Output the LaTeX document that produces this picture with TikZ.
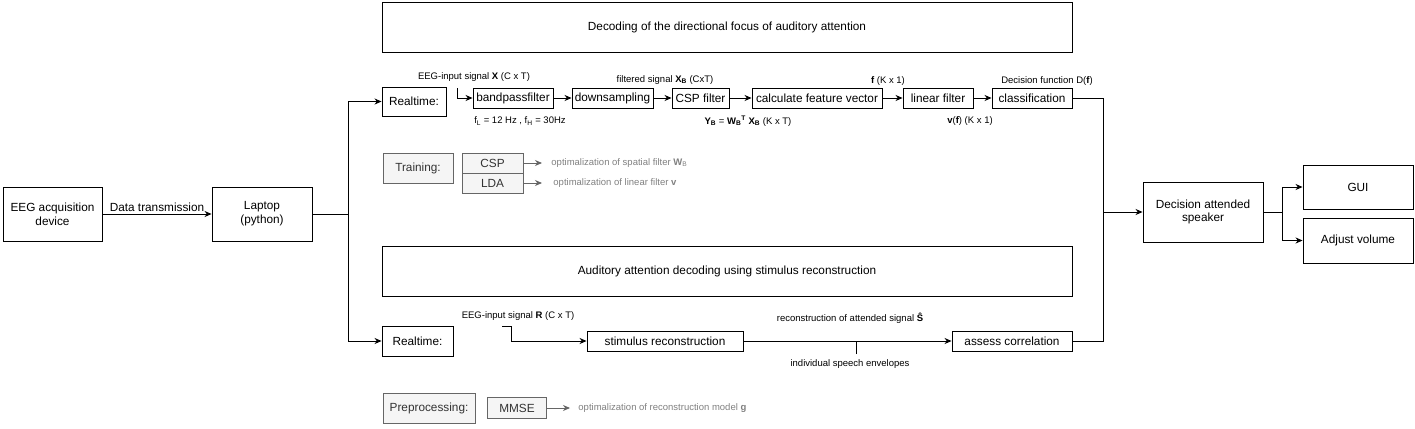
\documentclass[tikz,border=0pt]{standalone}
\usepackage{fontspec}
\setmainfont{Liberation Sans}
\usetikzlibrary{arrows.meta}
\definecolor{fillgray}{HTML}{F5F5F5}
\definecolor{linegray}{HTML}{666666}
\definecolor{textgray}{HTML}{333333}
\definecolor{notegray}{HTML}{808080}

\begin{document}
\begin{tikzpicture}[x=1pt,y=-1pt,>={Stealth[length=7pt,width=6pt,inset=2.2pt]},line width=0.9pt,
    block/.style={draw,rectangle,inner sep=0pt,align=center,font=\fontsize{11.8}{13.8}\selectfont},
    wh/.style 2 args={minimum width=#1pt,minimum height=#2pt},
    train/.style={block,draw=linegray,fill=fillgray,text=textgray},
    lbl/.style={inner sep=0pt,font=\fontsize{9.5}{11}\selectfont},
    note/.style={lbl,anchor=west,text=notegray}]
    \useasboundingbox (0,0) rectangle (1415,428);

    % sections
    \node[block,wh={690}{50}] (topic1) at (727,27) {Decoding of the directional focus of auditory attention};
    \node[block,wh={690}{50}] (topic2) at (727,271) {Auditory attention decoding using stimulus reconstruction};

    % acquisition
    \node[block,wh={99}{54}] (eeg) at (52.5,214) {EEG acquisition\\device};
    \node[block,wh={100}{54}] (laptop) at (262,214) {Laptop\\(python)};
    \coordinate (split) at (348,214);

    % realtime chain (top)
    \node[block,wh={64}{29}] (rt1) at (414,101.5) {Realtime:};
    \node[block,wh={80}{20}] (bpf) at (513,98) {bandpassfilter};
    \node[block,wh={81}{20}] (down) at (612.5,98) {downsampling};
    \node[block,wh={57}{20}] (csp) at (700.5,98) {CSP filter};
    \node[block,wh={130}{20}] (feat) at (817,98) {calculate feature vector};
    \node[block,wh={70}{20}] (lin) at (938,98) {linear filter};
    \node[block,wh={80}{20}] (cls) at (1032,98) {classification};
    \coordinate (in1) at (457,88);

    \node[lbl] (xlbl) at (474,77) {EEG-input signal \textbf{X} (C x T)};
    \node[lbl] (flbl) at (520,121) {f\textsubscript{L} = 12 Hz , f\textsubscript{H} = 30Hz};
    \node[lbl] (xblbl) at (665,80) {filtered signal \textbf{X\textsubscript{B}} (CxT)};
    \node[lbl] (yblbl) at (748,121) {\textbf{Y\textsubscript{B}} = \textbf{W\textsubscript{B}\textsuperscript{T}} \textbf{X\textsubscript{B}} (K x T)};
    \node[lbl] (fklbl) at (888,81) {\textbf{f} (K x 1)};
    \node[lbl] (vlbl) at (970,121) {\textbf{v}(\textbf{f}) (K x 1)};
    \node[lbl] (dlbl) at (1047,81) {Decision function D(\textbf{f})};

    % training
    \node[train,wh={70}{30}] (training) at (418,168) {Training:};
    \node[train,wh={61}{20}] (cspt) at (492.5,163) {CSP};
    \node[train,wh={61}{20}] (lda) at (492.5,183) {LDA};
    \coordinate (cspend) at (542,163);
    \coordinate (ldaend) at (542,183);
    \node[note] (wnote) at (551,163) {optimalization of spatial filter \textbf{W}\textsubscript{B}};
    \node[note] (vnote) at (553,183) {optimalization of linear filter \textbf{v}};

    % realtime chain (bottom)
    \node[block,wh={71}{30}] (rt2) at (417.5,341) {Realtime:};
    \node[block,wh={156}{20}] (stim) at (665,341) {stimulus reconstruction};
    \node[block,wh={120}{20}] (assess) at (1012,341) {assess correlation};
    \coordinate (in2) at (502,326);
    \coordinate (env) at (856,354);
    \node[lbl] (rlbl) at (518,316) {EEG-input signal \textbf{R} (C x T)};
    \node[lbl] (slbl) at (850,318) {reconstruction of attended signal \textbf{Ŝ}};
    \node[lbl] (elbl) at (850,364) {individual speech envelopes};

    % preprocessing
    \node[train,wh={92}{30}] (prep) at (429,408) {Preprocessing:};
    \node[train,wh={59}{21}] (mmse) at (517,408) {MMSE};
    \coordinate (mmseend) at (570,408);
    \node[note] (gnote) at (578,408) {optimalization of reconstruction model \textbf{g}};

    % output
    \node[block,wh={120}{60}] (dec) at (1203,212) {Decision attended\\speaker};
    \node[block,wh={110}{44}] (gui) at (1358,187) {GUI};
    \node[block,wh={110}{45}] (vol) at (1358,240.5) {Adjust volume};
    \coordinate (merge) at (1103,212);
    \coordinate (branch) at (1282,212);

    \draw[->] (eeg) -- node[above,font=\fontsize{11.8}{13.8}\selectfont,inner sep=2pt] {Data transmission} (laptop);
    \draw (laptop) -- (split);
    \draw[->] (split) |- (rt1);
    \draw[->] (split) |- (rt2);

    \path[->]
    (in1) edge [to path={|- (\tikztotarget)}] (bpf)
    (bpf) edge (down)
    (down) edge (csp)
    (csp) edge (feat)
    (feat) edge (lin)
    (lin) edge (cls)
    ;
    \draw (cls) -| (merge);
    \draw (assess) -| (merge);
    \draw[->] (merge) -- (dec);

    \draw[->] (in2) -- ++(9,0) |- (stim);
    \draw[->] (stim) -- (assess);
    \draw (env) -- (env |- stim);

    \draw[->,linegray] (cspt) -- (cspend);
    \draw[->,linegray] (lda) -- (ldaend);
    \draw[->,linegray] (mmse) -- (mmseend);

    \draw (dec) -- (branch);
    \draw[->] (branch) |- (gui);
    \draw[->] (branch) |- (vol);
  \end{tikzpicture}
\end{document}
